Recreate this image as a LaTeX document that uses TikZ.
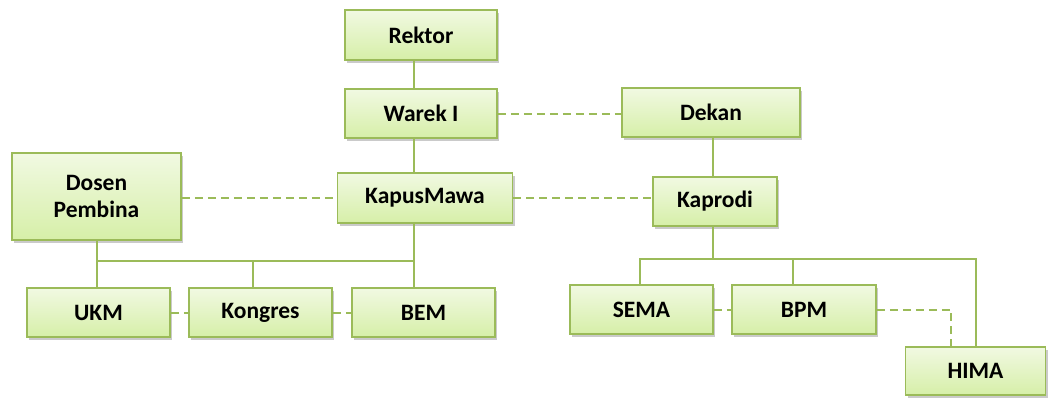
\documentclass[tikz,border=0pt]{standalone}
\usepackage{fontspec}
\setmainfont{Carlito}
\usetikzlibrary{shadows}

\definecolor{olive}{HTML}{9BBB59}
\definecolor{boxtop}{HTML}{F1F9E2}
\definecolor{boxbot}{HTML}{D6EFA8}

\tikzstyle{box} = [rectangle, draw=olive, line width=1.8pt, top color=boxtop, bottom color=boxbot,
  drop shadow={shadow xshift=2pt, shadow yshift=-2.5pt, opacity=0.35, fill=black!60},
  font=\bfseries\fontsize{23.5}{27}\selectfont, align=center, inner sep=0pt]
\tikzstyle{link} = [draw=olive, line width=2pt]
\tikzstyle{dlink} = [draw=olive, line width=2pt, dash pattern=on 8pt off 5pt]

\begin{document}
\begin{tikzpicture}[x=1pt, y=-1pt]
    \useasboundingbox (0, 0) rectangle (1048, 397);
    \coordinate (spineL) at (414, 0);
    \coordinate (spineR) at (713, 0);
    \node[box, minimum width=152pt, minimum height=50pt] (Rektor) at (421, 35) {Rektor};
    \node[box, minimum width=152pt, minimum height=49pt] (Warek) at (421, 113.5) {Warek I};
    \node[box, minimum width=178pt, minimum height=49pt] (Dekan) at (711, 112.5) {Dekan};
    \node[box, minimum width=169pt, minimum height=87pt] (Dosen) at (96.5, 196.5) {Dosen\\Pembina};
    \node[box, minimum width=175pt, minimum height=50pt] (Kapus) at (425, 198) {KapusMawa};
    \node[box, minimum width=124pt, minimum height=49pt] (Kaprodi) at (715, 201.5) {Kaprodi};
    \node[box, minimum width=143pt, minimum height=49pt] (UKM) at (98.5, 312.5) {UKM};
    \node[box, minimum width=143pt, minimum height=49pt] (Kongres) at (260.5, 312.5) {Kongres};
    \node[box, minimum width=143pt, minimum height=49pt] (BEM) at (423.5, 312.5) {BEM};
    \node[box, minimum width=143pt, minimum height=49pt] (SEMA) at (641.5, 309.5) {SEMA};
    \node[box, minimum width=144pt, minimum height=49pt] (BPM) at (804, 309.5) {BPM};
    \node[box, minimum width=140pt, minimum height=48pt] (HIMA) at (975.5, 371) {HIMA};
    \coordinate (busL) at (0, 261);
    \coordinate (busR) at (0, 259);
    \coordinate (bend) at (951, 0);

    % solid lines
    \draw[link] (Rektor.south -| spineL) -- (Warek.north -| spineL);
    \draw[link] (Warek.south -| spineL) -- (Kapus.north -| spineL);
    \draw[link] (Kapus.south -| spineL) -- (BEM.north -| spineL);
    \draw[link] (Dosen.south) -- (UKM.north -| Dosen.south);
    \draw[link] (busL -| Dosen.south) -- (busL -| spineL);
    \draw[link] (busL -| 253, 0) -- (Kongres.north -| 253, 0);
    \draw[link] (Dekan.south -| spineR) -- (Kaprodi.north -| spineR);
    \draw[link] (Kaprodi.south -| spineR) -- (busR -| spineR);
    \draw[link] (SEMA.north -| 640, 0) -- (busR -| 640, 0) -- (busR -| HIMA.north) -- (HIMA.north);
    \draw[link] (busR -| 793, 0) -- (BPM.north -| 793, 0);

    % dashed lines
    \draw[dlink] (Warek.east) -- (Dekan.west |- Warek.east);
    \draw[dlink] (Dosen.east |- Kapus.west) -- (Kapus.west);
    \draw[dlink] (Kapus.east) -- (Kaprodi.west |- Kapus.east);
    \draw[dlink] (UKM.east) -- (Kongres.west);
    \draw[dlink] (Kongres.east) -- (BEM.west);
    \draw[dlink] (SEMA.east) -- (BPM.west);
    \draw[dlink] (BPM.east) -- (BPM.east -| bend) -- (HIMA.north -| bend);
\end{tikzpicture}
\end{document}
